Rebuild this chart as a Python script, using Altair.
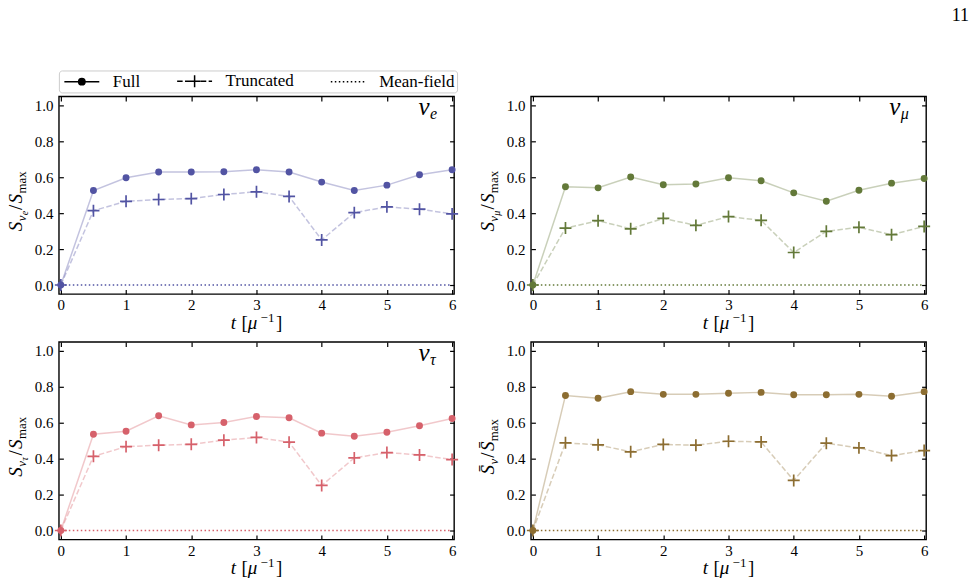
import altair as alt
import pandas as pd

# ---- data ---------------------------------------------------------------
t = [0.0, 0.5, 1.0, 1.5, 2.0, 2.5, 3.0, 3.5, 4.0, 4.5, 5.0, 5.5, 6.0]

nue_full = [0.000, 0.526, 0.597, 0.629, 0.629, 0.631, 0.642, 0.629, 0.573, 0.526, 0.556, 0.614, 0.642]
nue_trunc = [0.000, 0.414, 0.466, 0.476, 0.481, 0.504, 0.519, 0.493, 0.251, 0.403, 0.435, 0.422, 0.396]

numu_full = [0.000, 0.547, 0.541, 0.601, 0.558, 0.562, 0.597, 0.580, 0.513, 0.466, 0.528, 0.567, 0.593]
numu_trunc = [0.000, 0.317, 0.358, 0.313, 0.371, 0.332, 0.381, 0.360, 0.181, 0.299, 0.321, 0.280, 0.326]

nutau_full = [0.000, 0.536, 0.553, 0.639, 0.588, 0.601, 0.635, 0.628, 0.542, 0.525, 0.547, 0.583, 0.624]
nutau_trunc = [0.000, 0.413, 0.467, 0.475, 0.480, 0.503, 0.518, 0.492, 0.251, 0.404, 0.434, 0.421, 0.395]

nubar_full = [0.000, 0.752, 0.736, 0.773, 0.758, 0.758, 0.764, 0.769, 0.756, 0.756, 0.758, 0.747, 0.773]
nubar_trunc = [0.000, 0.488, 0.477, 0.438, 0.479, 0.475, 0.497, 0.493, 0.279, 0.486, 0.460, 0.417, 0.445]

mean_field = [0.0, 0.0, 0.0, 0.0, 0.0, 0.0, 0.0, 0.0, 0.0, 0.0, 0.0, 0.0, 0.0]

series_names = ["Full", "Truncated", "Mean-field"]
x_ticks = [0, 1, 2, 3, 4, 5, 6]
y_ticks = [0.0, 0.2, 0.4, 0.6, 0.8, 1.0]

# ---- style --------------------------------------------------------------
FONT = "Liberation Serif"
W, H = 396, 198
GAP_X, GAP_Y = 77, 48
BLUE, GREEN, RED, BROWN = "#5254a3", "#637939", "#d6616b", "#8c6d31"
TICK_FS = 15
PLUS = "M-1,0L1,0M0,-1L0,1"

# approximate advance widths (em) used to lay out the math-style titles
REG = {"[": 0.333, "]": 0.333, "/": 0.32, "1": 0.5, "\u2212": 0.564,
       "m": 0.778, "a": 0.444, "x": 0.5}
ITA = {"S": 0.52, "t": 0.3, "e": 0.444, "\u03bd": 0.46, "\u03bc": 0.52,
       "\u03c4": 0.44, "\u0304": 0.0}


def run_width(txt, fs, italic):
    tab = ITA if italic else REG
    return sum(tab.get(ch, 0.5) for ch in txt) * fs


def total_width(pieces):
    return sum(p[4] + run_width(p[0], p[1], p[2]) for p in pieces)


ONE_ROW = alt.Data(values=[{"k": 0}])


def text_piece(txt, fs, italic, x, y, angle=0, align="left"):
    return alt.Chart(ONE_ROW).mark_text(
        text=txt, font=FONT, fontSize=fs,
        fontStyle="italic" if italic else "normal",
        align=align, baseline="alphabetic", angle=angle, color="black",
    ).encode(x=alt.value(x), y=alt.value(y))


# each piece: (text, font size, italic, baseline shift, gap before)
def hrun(pieces, x_start, y_base):
    out, pos = [], 0.0
    for txt, fs, it, shift, gap in pieces:
        pos += gap
        out.append(text_piece(txt, fs, it, x_start + pos, y_base + shift))
        pos += run_width(txt, fs, it)
    return out


def vrun(pieces, x_base, y_start):
    # text reading bottom-to-top; positive shift moves toward the plot
    out, pos = [], 0.0
    for txt, fs, it, shift, gap in pieces:
        pos += gap
        out.append(text_piece(txt, fs, it, x_base + shift, y_start - pos, angle=270))
        pos += run_width(txt, fs, it)
    return out


def y_title(sub_pieces, bar=False):
    s = "S\u0304" if bar else "S"
    pieces = ([(s, 19, True, 0, 0)] + sub_pieces +
              [("/", 19, False, 0, 1), (s, 19, True, 0, 0.5), ("max", 13, False, 4, 0)])
    return vrun(pieces, -37, H / 2 + total_width(pieces) / 2 + 6)


def x_title():
    pieces = [("t", 19, True, 0, 0), ("[", 19, False, 0, 5), ("\u03bc", 19, True, 0, 0),
              ("\u22121", 13, False, -7, 3), ("]", 19, False, 0, 1.5)]
    return hrun(pieces, W / 2 - total_width(pieces) / 2, H + 35)


def tag(sub):
    pieces = [("\u03bd", 25, True, 0, 0), (sub, 16, True, 4, 0)]
    return hrun(pieces, W - 17 - total_width(pieces), 19)


# ---- axes: labels outside, ticks inside on all four edges ---------------
x_label_axis = alt.Axis(orient="bottom", values=x_ticks, format="d", ticks=False, tickSize=0,
                        domain=False, grid=False, title=None, labelFont=FONT,
                        labelFontSize=TICK_FS, labelPadding=4, labelFlush=False,
                        labelColor="black", labelOverlap=False)
y_label_axis = alt.Axis(orient="left", values=y_ticks, format=".1f", ticks=False, tickSize=0,
                        domain=False, grid=False, title=None, labelFont=FONT,
                        labelFontSize=TICK_FS, labelPadding=6, labelFlush=False,
                        labelColor="black", labelOverlap=False)


def inner_ticks(orient, offset, values):
    return alt.Axis(orient=orient, offset=offset, values=values, labels=False, ticks=True,
                    tickSize=4.5, tickWidth=1.2, tickColor="black", domain=False,
                    grid=False, title=None)


# ---- legend symbols (line + marker drawn as one path) -------------------
def segs(start, stop, dash, gap):
    parts, s = [], start
    while s < stop:
        e = min(s + dash, stop)
        parts.append(f"M{s:.2f},0L{e:.2f},0")
        s = e + gap
    return "".join(parts)


r = 0.64
sym_full = f"M-1,0L6,0M{2.5 + r},0A{r},{r},0,1,1,{2.5 - r},0A{r},{r},0,1,1,{2.5 + r},0Z"
sym_trunc = segs(-1, 6, 1.1, 0.48) + "M1.3,0L3.7,0M2.5,-1.2L2.5,1.2"
sym_mf = segs(-1, 6, 0.3, 0.5)

legend_layer = alt.Chart(pd.DataFrame({"series": series_names})).transform_filter(
    "false"
).mark_point(filled=False, fill="black", stroke="black", strokeWidth=1.5, size=100,
             opacity=1, fillOpacity=1).encode(
    shape=alt.Shape(
        "series:N",
        scale=alt.Scale(domain=series_names, range=[sym_full, sym_trunc, sym_mf]),
        legend=alt.Legend(
            title=None, orient="none", legendX=0, legendY=-26, direction="horizontal",
            labelFont=FONT, labelFontSize=17, labelColor="black", labelOffset=35,
            columnPadding=33, symbolSize=100, symbolStrokeWidth=1.5, symbolOpacity=1,
            padding=2, strokeColor="#cccccc", fillColor="white", cornerRadius=3,
        ),
    )
)


# invisible corner anchors fixing the page frame
def anchor(x, y):
    return alt.Chart(ONE_ROW).mark_rule(strokeWidth=0, opacity=0).encode(
        x=alt.value(x), y=alt.value(y), x2=alt.value(x), y2=alt.value(y))


def panel(full, trunc, color, title_layers, extra=()):
    df = pd.DataFrame({"t": t, "full": full, "trunc": trunc, "mf": mean_field})
    base = alt.Chart(df)
    xs = alt.Scale(domain=[-0.03, 6.03], nice=False, zero=False)
    ys = alt.Scale(domain=[-0.05, 1.05], nice=False, zero=False)
    layers = [
        base.mark_line(color=color, opacity=0.35, strokeWidth=1.5).encode(
            x=alt.X("t:Q", scale=xs, axis=x_label_axis),
            y=alt.Y("full:Q", scale=ys, axis=y_label_axis)),
        base.mark_line(color=color, opacity=0.35, strokeWidth=1.5, strokeDash=[5.5, 2.4]).encode(
            x=alt.X("t:Q", scale=xs, axis=inner_ticks("top", -H, x_ticks)),
            y=alt.Y("trunc:Q", scale=ys, axis=inner_ticks("right", -W, y_ticks))),
        base.mark_line(color=color, strokeWidth=1.5, strokeDash=[1.5, 2.5]).encode(
            x=alt.X("t:Q", scale=xs, axis=inner_ticks("bottom", -H, x_ticks)),
            y=alt.Y("mf:Q", scale=ys, axis=inner_ticks("left", -W, y_ticks))),
        base.mark_point(filled=True, color=color, size=48, opacity=1).encode(
            x=alt.X("t:Q", scale=xs, axis=None),
            y=alt.Y("full:Q", scale=ys, axis=None)),
        base.mark_point(shape=PLUS, filled=False, color=color, size=144, strokeWidth=1.7,
                        opacity=1).encode(
            x=alt.X("t:Q", scale=xs, axis=None),
            y=alt.Y("trunc:Q", scale=ys, axis=None)),
    ]
    layers += list(title_layers) + x_title() + list(extra)
    return alt.layer(*layers).resolve_axis(x="independent", y="independent").properties(
        width=W, height=H)


p1 = panel(nue_full, nue_trunc, BLUE,
           y_title([("\u03bd", 13, True, 4, 0), ("e", 10, True, 6.5, 0)]),
           tag("e") + [legend_layer, anchor(-58, -95)])
p2 = panel(numu_full, numu_trunc, GREEN,
           y_title([("\u03bd", 13, True, 4, 0), ("\u03bc", 10, True, 6.5, 0)]),
           tag("\u03bc") + [text_piece("11", 18, False, W + 43, -76, align="right")])
p3 = panel(nutau_full, nutau_trunc, RED,
           y_title([("\u03bd", 13, True, 4, 0), ("\u03c4", 10, True, 6.5, 0)]),
           tag("\u03c4"))
p4 = panel(nubar_full, nubar_trunc, BROWN,
           y_title([("\u03bd", 13, True, 4, 0)], bar=True),
           [anchor(W + 49, H + 45)])

chart = alt.concat(
    p1, p2, p3, p4, columns=2, spacing={"row": GAP_Y, "column": GAP_X}, bounds="flush"
).properties(
    padding=0, background="white"
).configure_view(
    stroke="black", strokeWidth=1.4
)

chart.save("out.html", embed_options={"renderer": "svg", "actions": False})
